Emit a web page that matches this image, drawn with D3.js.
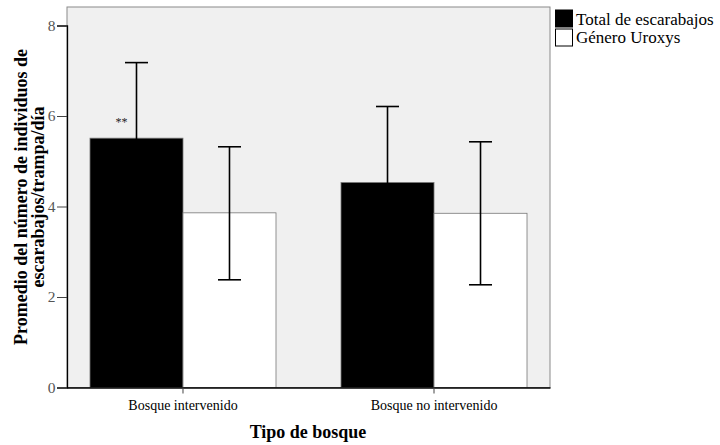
<!DOCTYPE html>
<html><head><meta charset="utf-8">
<script src="https://cdn.jsdelivr.net/npm/d3@7"></script>
<style>body{margin:0;background:#fff}svg{display:block}</style>
</head><body>
<script>
const categories = ["Bosque intervenido", "Bosque no intervenido"];
const seriesNames = ["Total de escarabajos", "Género Uroxys"];
const seriesColors = ["#000000", "#ffffff"];
const totalMean = [5.51, 4.53];
const totalHigh = [7.18, 6.21];
const totalLow = [3.84, 2.85];
const uroxysMean = [3.86, 3.85];
const uroxysHigh = [5.32, 5.43];
const uroxysLow = [2.38, 2.27];
const yTicks = [0, 2, 4, 6, 8];
const annotations = ["**", ""];

const W = 720, H = 445;
const FONT = "'Liberation Serif', 'Times New Roman', serif";
const svg = d3.select("body").append("svg").attr("width", W).attr("height", H);
const L = 67, R = 550, T = 7, B = 387.5;
const y = d3.scaleLinear().domain([0, 8]).range([B, 25.5]);
const x0 = d3.scaleBand().domain(categories).range([L, R]).paddingInner(0.259).paddingOuter(0.0916);
const x1 = d3.scaleBand().domain(seriesNames).range([0, x0.bandwidth()]);

svg.append("rect").attr("x", L).attr("y", T).attr("width", R - L).attr("height", B - T)
  .attr("fill", "#f0f0f0").attr("stroke", "#8a8a8a").attr("stroke-width", 1);

const data = [];
categories.forEach((c, i) => {
  data.push({c, s: seriesNames[0], m: totalMean[i], hi: totalHigh[i], lo: totalLow[i], col: seriesColors[0]});
  data.push({c, s: seriesNames[1], m: uroxysMean[i], hi: uroxysHigh[i], lo: uroxysLow[i], col: seriesColors[1]});
});

svg.selectAll("rect.bar").data(data).enter().append("rect").attr("class", "bar")
  .attr("x", d => x0(d.c) + x1(d.s)).attr("y", d => y(d.m))
  .attr("width", x1.bandwidth()).attr("height", d => B - y(d.m))
  .attr("fill", d => d.col).attr("stroke", "#777").attr("stroke-width", 0.8);

const eb = svg.append("g").attr("stroke", "#000").attr("stroke-width", 1.6);
data.forEach(d => {
  const cx = x0(d.c) + x1(d.s) + x1.bandwidth() / 2;
  eb.append("line").attr("x1", cx).attr("x2", cx).attr("y1", y(d.lo)).attr("y2", y(d.hi));
  eb.append("line").attr("x1", cx - 11.5).attr("x2", cx + 11.5).attr("y1", y(d.hi)).attr("y2", y(d.hi));
  eb.append("line").attr("x1", cx - 11.5).attr("x2", cx + 11.5).attr("y1", y(d.lo)).attr("y2", y(d.lo));
});

categories.forEach((c, i) => {
  if (annotations[i]) svg.append("text").attr("x", x0(c) + x1(seriesNames[0]) + x1.bandwidth() * 0.34)
    .attr("y", y(totalMean[i]) - 12).attr("text-anchor", "middle")
    .attr("font-family", FONT).attr("font-size", 12).attr("fill", "#222").text(annotations[i]);
});

// axes
const ya = svg.append("g").attr("transform", `translate(${L},0)`)
  .call(d3.axisLeft(y).tickValues(yTicks).tickSize(10).tickPadding(1.5));
ya.select(".domain").attr("stroke", "#000").attr("stroke-width", 1.3);
ya.selectAll(".tick line").attr("stroke", "#444");
ya.selectAll("text").attr("font-family", FONT).attr("font-size", 15.5).attr("fill", "#555");

const xa = svg.append("g").attr("transform", `translate(0,${B})`)
  .call(d3.axisBottom(x0).tickSize(6).tickPadding(7).tickSizeOuter(0));
xa.select(".domain").attr("stroke", "#000").attr("stroke-width", 1.3);
xa.selectAll(".tick line").attr("stroke", "#444");
xa.selectAll("text").attr("font-family", FONT).attr("font-size", 14).attr("fill", "#000");

svg.append("text").attr("x", 308).attr("y", 438).attr("text-anchor", "middle")
  .attr("font-family", FONT).attr("font-weight", "bold").attr("font-size", 18).text("Tipo de bosque");

const yl = svg.append("text").attr("transform", "translate(27,197) rotate(-90)").attr("text-anchor", "middle")
  .attr("font-family", FONT).attr("font-weight", "bold").attr("font-size", 18);
yl.append("tspan").attr("x", 0).attr("dy", 0).text("Promedio del número de individuos de");
yl.append("tspan").attr("x", 0).attr("dy", 17).text("escarabajos/trampa/día");

// legend
const lg = svg.append("g");
seriesNames.forEach((s, i) => {
  lg.append("rect").attr("x", 555.5).attr("y", 10 + i * 19).attr("width", 17).attr("height", 17)
    .attr("fill", seriesColors[i]).attr("stroke", "#000").attr("stroke-width", 1);
  lg.append("text").attr("x", 576).attr("y", 25 + i * 18)
    .attr("font-family", FONT).attr("font-size", 17).text(s);
});
</script>
</body></html>
